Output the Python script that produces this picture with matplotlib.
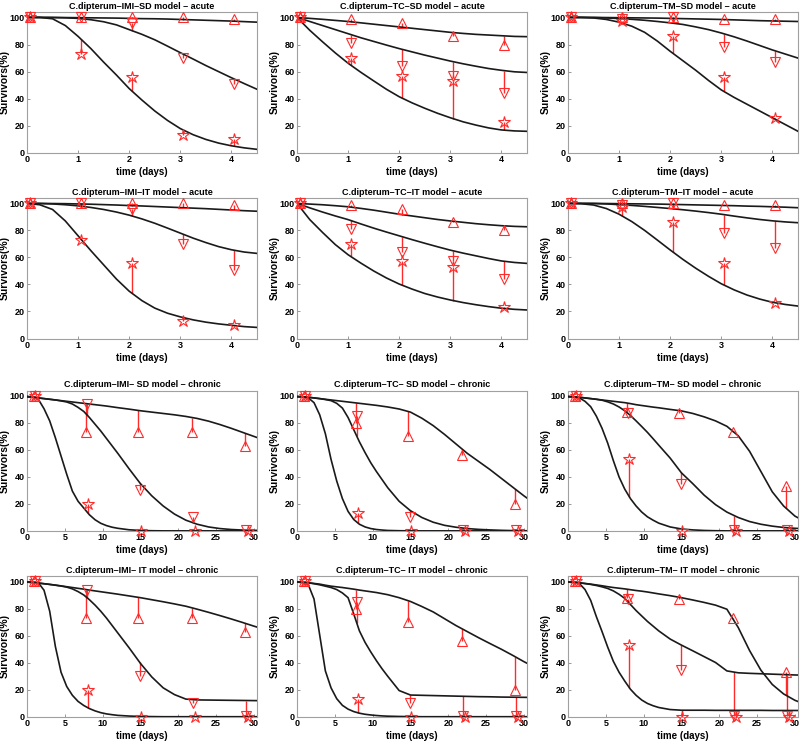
import numpy as np
import matplotlib
matplotlib.use("Agg")
import matplotlib.pyplot as plt

plt.rcParams['font.family'] = ['Liberation Sans', 'DejaVu Sans']
plt.rcParams['font.weight'] = 'bold'

# ---------------- model-curve time grids ----------------
acute_t = [0, 0.25, 0.5, 0.75, 1, 1.25, 1.5, 1.75, 2, 2.25, 2.5, 2.75, 3, 3.25, 3.5, 3.75, 4, 4.25, 4.5]
chronic_t = [0, 0.75, 1.5, 2.25, 3, 3.75, 4.5, 5.25, 6, 6.75, 7.5, 8.25, 9, 9.75, 10.5, 11.25, 12,
             13.5, 15, 16.5, 18, 19.5, 21, 22.5, 24, 25.5, 27, 28.5, 30, 31.5]

# ---------------- observation times ----------------
acute_days = [0.05, 1.05, 2.05, 3.05, 4.05]
chronic_days_up = [0.9, 7.8, 14.7, 21.8, 28.8]
chronic_days_down = [1.0, 7.9, 14.9, 22.0, 29.0]
chronic_days_star = [1.1, 8.1, 15.1, 22.2, 29.2]

# ---------------- observed survival (%) ----------------
imi_acute_up = [100, 100, 100, 100, 99]
imi_acute_down = [100, 100, 96, 70, 51]
imi_acute_star = [100, 73, 56, 13, 10]
tc_acute_up = [100, 99, 96, 86, 80]
tc_acute_down = [100, 81, 64, 57, 44]
tc_acute_star = [100, 70, 57, 53, 23]
tm_acute_up = [100, 100, 100, 99, 99]
tm_acute_down = [100, 99, 100, 78, 67]
tm_acute_star = [100, 97, 86, 56, 26]
imi_chronic_up = [100, 73, 73, 73, 63]
imi_chronic_down = [100, 94, 30, 10, 0.5]
imi_chronic_star = [100, 20, 0, 0, 0]
tc_chronic_up = [100, 80, 70, 56, 20]
tc_chronic_down = [100, 85, 10, 0.5, 0.5]
tc_chronic_star = [100, 13, 0, 0, 0]
tm_chronic_up = [100, 88, 87, 73, 33]
tm_chronic_down = [100, 87, 35, 1, 0.5]
tm_chronic_star = [100, 53, 0, 0, 0]

# ---------------- model curves ----------------
imi_sd_acute_top = [100, 100, 100, 99.9, 99.8, 99.7, 99.6, 99.5, 99.3, 99.1, 99.0, 98.8, 98.5, 98.2, 97.9, 97.6, 97.3, 96.9, 96.5]
imi_sd_acute_mid = [100, 100, 99.9, 99.7, 99.3, 98.3, 96.8, 94.5, 91, 87.5, 83.5, 78.8, 74, 69.3, 64.5, 60, 55.5, 51.2, 47]
imi_sd_acute_bot = [100, 100, 99, 94, 86, 77, 67, 57.5, 47.5, 39, 31, 24, 18, 13.5, 10, 7.3, 5.3, 3.8, 2.7]

tc_sd_acute_top = [100, 99.3, 98.6, 97.8, 97, 96, 95, 94, 93, 92, 91, 90, 89, 88.2, 87.5, 87, 86.5, 86, 85.8]
tc_sd_acute_mid = [100, 97, 94, 91, 88, 85, 82.3, 79.6, 77, 74.6, 72.2, 70, 67.8, 65.8, 64, 62.3, 61, 59.9, 59.4]
tc_sd_acute_bot = [100, 90.5, 82, 73.8, 66.2, 59.5, 53.2, 47, 41.5, 37, 33, 29.3, 26, 23, 20.6, 18.5, 17, 16.3, 16]

tm_sd_acute_top = [100, 100, 100, 99.9, 99.8, 99.7, 99.6, 99.5, 99.3, 99.1, 98.9, 98.7, 98.5, 98.2, 97.9, 97.6, 97.4, 97.2, 97]
tm_sd_acute_mid = [100, 100, 99.9, 99.6, 99.2, 98.6, 97.9, 97, 96, 94.8, 93, 91, 88.5, 85.7, 82.6, 79.3, 76, 73, 70]
tm_sd_acute_bot = [100, 100, 99.6, 98.5, 96.5, 93.5, 89, 82.5, 75, 68, 61, 53.5, 46.5, 41, 36, 31, 26, 21, 16]

imi_it_acute_top = [100, 100, 99.9, 99.8, 99.6, 99.4, 99.1, 98.8, 98.4, 98.1, 97.7, 97.3, 96.9, 96.5, 96.1, 95.6, 95.1, 94.6, 94.2]
imi_it_acute_mid = [100, 99.9, 99.6, 99, 98.2, 97, 95.5, 93.6, 91.3, 88.5, 85.3, 81.7, 78, 74.3, 71, 68, 65.7, 64, 63]
imi_it_acute_bot = [100, 99, 95.5, 87, 76, 65, 54.5, 44, 35, 28, 22.5, 18.7, 16, 13.8, 12.1, 10.8, 9.8, 8.8, 8.2]

tc_it_acute_top = [100, 99.5, 99, 98.3, 97.5, 96.3, 95, 93.5, 92, 90.7, 89.4, 88.1, 87, 86, 85, 84.2, 83.5, 83, 82.7]
tc_it_acute_mid = [100, 96.7, 93.6, 90.7, 88, 84.8, 81.7, 78.8, 76, 73.2, 70.5, 67.9, 65.4, 63.2, 61.2, 59.2, 57.4, 56.3, 55.6]
tc_it_acute_bot = [100, 88, 78.5, 69.5, 62, 55.8, 50, 44.8, 40.3, 36.6, 33.3, 30.7, 28.5, 26.6, 25, 23.6, 22.4, 21.6, 21.1]

tm_it_acute_top = [100, 100, 100, 99.9, 99.8, 99.7, 99.6, 99.5, 99.3, 99.1, 98.9, 98.7, 98.5, 98.3, 98.0, 97.8, 97.5, 97.2, 96.8]
tm_it_acute_mid = [100, 100, 99.9, 99.6, 99.1, 98.5, 97.8, 97, 96.2, 95.3, 94.3, 93.2, 92, 90.6, 89.3, 88.1, 87.1, 86.3, 85.7]
tm_it_acute_bot = [100, 99.8, 98.8, 96.2, 92, 86.5, 80, 72.8, 65.5, 58.5, 52, 46, 40.5, 36, 32.2, 29.2, 26.8, 25.2, 24]

imi_sd_chronic_top = [99.5, 99, 98.5, 98, 97.5, 97, 96.5, 96, 95.5, 95, 94.5, 94, 93.5, 93, 92.5, 91.9, 91.3,
                      90.2, 89, 88, 87, 86, 84.8, 83.3, 81.3, 78.8, 76, 73, 70, 67]
imi_sd_chronic_mid = [99.5, 99, 98.5, 98, 97.5, 97, 96.3, 95.5, 94, 91.5, 88.5, 84, 79, 74, 68.5, 63, 57.5,
                      46, 35, 26, 18.5, 12.5, 8, 5, 3, 1.8, 1.1, 0.7, 0.5, 0.4]
imi_sd_chronic_bot = [99.5, 99.3, 97.5, 90.5, 81.5, 69, 55.5, 42, 29.5, 22, 17, 12, 8.3, 5.7, 4, 2.8, 2,
                      0.9, 0.4, 0.2, 0.1, 0.1, 0.1, 0.1, 0.1, 0.1, 0.1, 0.1, 0.1, 0.1]

tc_sd_chronic_top = [99.5, 99.3, 99, 98.5, 98, 97.5, 97, 96.5, 96, 95.5, 95, 94.5, 94, 93.5, 93, 92.4, 91.8,
                     90.3, 88, 83.5, 78, 71.5, 64.5, 57.5, 51.5, 45.5, 39, 32.5, 26, 20]
tc_sd_chronic_mid = [99.5, 99.3, 99, 98.5, 98, 97.3, 96.5, 94.5, 91, 84, 75, 66, 58, 50.5, 44, 38, 32,
                     22, 15, 10, 6.5, 4.2, 2.8, 1.8, 1.2, 0.8, 0.5, 0.3, 0.2, 0.1]
tc_sd_chronic_bot = [99.5, 99.3, 98.5, 95, 86, 72, 53, 37, 24, 14.5, 8.5, 5, 3, 1.8, 1.1, 0.7, 0.4,
                     0.2, 0.1, 0.1, 0.1, 0.1, 0.1, 0.1, 0.1, 0.1, 0.1, 0.1, 0.1, 0.1]

tm_sd_chronic_top = [99.5, 99.3, 99, 98.5, 98, 97.5, 97, 96.5, 96, 95.5, 95, 94.3, 93.5, 92.9, 92.3, 91.7, 91.2,
                     90, 88.9, 87, 84.5, 81.5, 77.5, 70.5, 59, 44, 29, 18.5, 11, 6.5]
tm_sd_chronic_mid = [99.5, 99.3, 99, 98.5, 98, 97.5, 96.8, 95.6, 94, 91.8, 89, 85.5, 81.5, 77.3, 73, 68.3, 63.5,
                     54, 43, 35, 26.5, 19.5, 14, 10, 7, 5, 3.6, 2.6, 2, 1.6]
tm_sd_chronic_bot = [99.5, 99.3, 98.5, 96, 92, 85, 76, 65, 52, 40, 31, 24, 18.5, 14, 10.5, 8, 5.8,
                     3, 1.5, 0.8, 0.4, 0.2, 0.1, 0.1, 0.1, 0.1, 0.1, 0.1, 0.1, 0.1]

imi_it_chronic_top = [99.5, 99.2, 98.8, 98.3, 97.8, 97.3, 96.7, 96.1, 95.5, 94.9, 94.3, 93.6, 93, 92.4, 91.8, 91.2, 90.6,
                      89.3, 88, 86.5, 85, 83.4, 81.7, 79.5, 77.2, 74.8, 72.3, 69.7, 67, 64.5]
imi_it_chronic_mid = [99.5, 99.2, 98.8, 98.3, 97.8, 97.2, 96.6, 95.8, 94.5, 92.5, 90, 86.5, 82.5, 78, 73, 67.5, 62,
                      51, 39.5, 29.5, 21.5, 16.5, 13.2, 12.6, 12.5, 12.4, 12.3, 12.2, 12.1, 12]
imi_it_chronic_bot = [99.5, 99.4, 99, 93.5, 78, 52, 33, 22.5, 16, 11.5, 8.5, 6.2, 4.5, 3.2, 2.3, 1.7, 1.2,
                      0.7, 0.4, 0.3, 0.2, 0.2, 0.2, 0.2, 0.2, 0.2, 0.2, 0.2, 0.2, 0.2]

tc_it_chronic_top = [99.5, 99.3, 99, 98.5, 98, 97.2, 96.5, 96, 95.5, 94.9, 94.3, 93.6, 93, 92.4, 91.8, 91, 90.2,
                     88, 85.2, 81.5, 77.5, 72.5, 67.5, 63, 58.5, 54.2, 50, 45.5, 40.8, 36.5]
tc_it_chronic_mid = [99.5, 99.3, 99, 98.3, 97.5, 96.5, 95.5, 94, 91.5, 88, 76, 63.5, 55, 48, 41.5, 35.5, 30,
                     19.5, 16.2, 16, 15.8, 15.6, 15.4, 15.2, 15, 14.9, 14.7, 14.6, 14.5, 14.4]
tc_it_chronic_bot = [99.5, 99.3, 97.5, 87, 60.5, 34, 21.5, 13.5, 8.6, 5.8, 4, 2.8, 2, 1.5, 1.1, 0.8, 0.6,
                     0.4, 0.3, 0.2, 0.2, 0.2, 0.2, 0.2, 0.2, 0.2, 0.2, 0.2, 0.2, 0.2]

tm_it_chronic_top = [99.5, 99.3, 99, 98.5, 98, 97.4, 96.8, 96.1, 95.5, 95, 94.5, 93.9, 93.3, 92.8, 92.2, 91.5, 90.8,
                     89.5, 88, 86.3, 84.5, 82.5, 79.5, 66, 49, 34.5, 24, 17, 12.3, 9]
tm_it_chronic_mid = [99.5, 99.3, 99, 98.4, 97.8, 97, 96, 94.8, 93, 90.5, 87.5, 83, 78.5, 74.5, 70.5, 67, 63.5,
                     57.5, 53, 48.8, 44.5, 40.2, 34, 32.6, 32.2, 31.9, 31.6, 31.3, 31, 30.8]
tm_it_chronic_bot = [99.5, 99.3, 98.5, 94, 86, 74, 63, 51.5, 41, 33, 26.5, 20.5, 16, 12.5, 10, 8.3, 7,
                     5.5, 5, 5, 5, 4.9, 4.9, 4.9, 4.9, 4.9, 4.8, 4.8, 4.8, 4.8]

titles = [
    "C.dipterum\u2013IMI\u2013SD model \u2013 acute", "C.dipterum\u2013TC\u2013SD model \u2013 acute", "C.dipterum\u2013TM\u2013SD model \u2013 acute",
    "C.dipterum\u2013IMI\u2013IT model \u2013 acute", "C.dipterum\u2013TC\u2013IT model \u2013 acute", "C.dipterum\u2013TM\u2013IT model \u2013 acute",
    "C.dipterum\u2013IMI\u2013 SD model \u2013 chronic", "C.dipterum\u2013TC\u2013 SD model \u2013 chronic", "C.dipterum\u2013TM\u2013 SD model \u2013 chronic",
    "C.dipterum\u2013IMI\u2013 IT model \u2013 chronic", "C.dipterum\u2013TC\u2013 IT model \u2013 chronic", "C.dipterum\u2013TM\u2013 IT model \u2013 chronic",
]

acute_obs = {'IMI': (imi_acute_up, imi_acute_down, imi_acute_star),
             'TC': (tc_acute_up, tc_acute_down, tc_acute_star),
             'TM': (tm_acute_up, tm_acute_down, tm_acute_star)}
chronic_obs = {'IMI': (imi_chronic_up, imi_chronic_down, imi_chronic_star),
               'TC': (tc_chronic_up, tc_chronic_down, tc_chronic_star),
               'TM': (tm_chronic_up, tm_chronic_down, tm_chronic_star)}

panels = [
    ('acute', acute_obs['IMI'], (imi_sd_acute_top, imi_sd_acute_mid, imi_sd_acute_bot)),
    ('acute', acute_obs['TC'], (tc_sd_acute_top, tc_sd_acute_mid, tc_sd_acute_bot)),
    ('acute', acute_obs['TM'], (tm_sd_acute_top, tm_sd_acute_mid, tm_sd_acute_bot)),
    ('acute', acute_obs['IMI'], (imi_it_acute_top, imi_it_acute_mid, imi_it_acute_bot)),
    ('acute', acute_obs['TC'], (tc_it_acute_top, tc_it_acute_mid, tc_it_acute_bot)),
    ('acute', acute_obs['TM'], (tm_it_acute_top, tm_it_acute_mid, tm_it_acute_bot)),
    ('chronic', chronic_obs['IMI'], (imi_sd_chronic_top, imi_sd_chronic_mid, imi_sd_chronic_bot)),
    ('chronic', chronic_obs['TC'], (tc_sd_chronic_top, tc_sd_chronic_mid, tc_sd_chronic_bot)),
    ('chronic', chronic_obs['TM'], (tm_sd_chronic_top, tm_sd_chronic_mid, tm_sd_chronic_bot)),
    ('chronic', chronic_obs['IMI'], (imi_it_chronic_top, imi_it_chronic_mid, imi_it_chronic_bot)),
    ('chronic', chronic_obs['TC'], (tc_it_chronic_top, tc_it_chronic_mid, tc_it_chronic_bot)),
    ('chronic', chronic_obs['TM'], (tm_it_chronic_top, tm_it_chronic_mid, tm_it_chronic_bot)),
]

W, H = 800, 741
fig = plt.figure(figsize=(W / 100, H / 100), dpi=100)

col_left = [27, 297, 568]
ax_w = 230
rows = [(12, 153), (198, 338.5), (390.5, 531), (576, 717)]

RED = '#ff2a2a'
markers = ['^', 'v', '*']
msizes = [7.5, 7.5, 9]

for i, (kind, obs, curves) in enumerate(panels):
    r, c = divmod(i, 3)
    top, bot = rows[r]
    ax = fig.add_axes([col_left[c] / W, 1 - bot / H, ax_w / W, (bot - top) / H])
    if kind == 'acute':
        tgrid = acute_t
        days = [acute_days, acute_days, acute_days]
        ax.set_xlim(0, 4.5)
        ax.set_xticks([0, 1, 2, 3, 4])
    else:
        tgrid = chronic_t
        days = [chronic_days_up, chronic_days_down, chronic_days_star]
        ax.set_xlim(0, 30.4)
        ax.set_xticks([0, 5, 10, 15, 20, 25, 30])
    ax.set_ylim(0, 104)
    ax.set_yticks([0, 20, 40, 60, 80, 100])

    for curve in curves:
        ax.plot(tgrid, curve, color='#1a1a1a', lw=1.2, zorder=3)
    for k in range(3):
        xd = np.array(days[k])
        yd = np.array(obs[k])
        ym = np.interp(xd, tgrid, curves[k])
        ax.vlines(xd, yd, ym, color=RED, lw=1.0, zorder=2)
        ax.plot(xd, yd, linestyle='none', marker=markers[k], ms=msizes[k],
                mfc='none', mec=RED, mew=0.8, zorder=4, clip_on=False)

    ax.set_title(titles[i], fontsize=6.5, fontweight='bold', pad=2.5)
    ax.set_xlabel('time (days)', fontsize=7, fontweight='bold')
    ax.set_ylabel('Survivors(%)', fontsize=7.5, fontweight='bold')
    ax.xaxis.set_label_coords(0.5, -0.10)
    ax.yaxis.set_label_coords(-0.075, 0.5)
    ax.tick_params(axis='both', direction='in', length=2, width=0.6, pad=1.5,
                   labelsize=6.5, colors='#888888', labelcolor='black')
    for lab in ax.get_xticklabels() + ax.get_yticklabels():
        lab.set_fontweight('bold')
    for sp in ax.spines.values():
        sp.set_color('#a0a0a0')
        sp.set_linewidth(0.8)

fig.savefig('out.png', dpi=100)
